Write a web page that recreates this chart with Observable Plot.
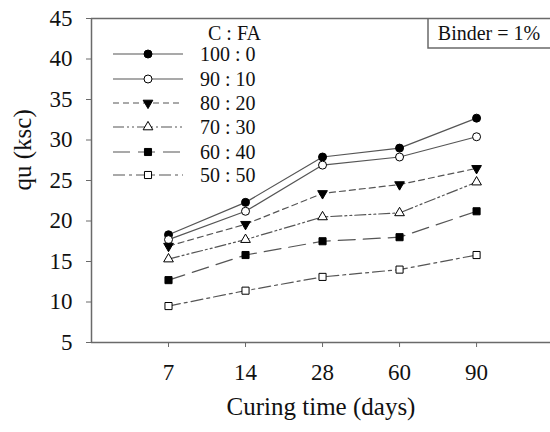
<!DOCTYPE html>
<html><head><meta charset="utf-8">
<script src="https://cdn.jsdelivr.net/npm/d3@7"></script>
<script src="https://cdn.jsdelivr.net/npm/@observablehq/plot@0.6"></script>
<style>body{margin:0;background:#fff}</style>
</head><body><div id="chart"></div>
<script>
const days = ["7", "14", "28", "60", "90"];
const ratios = ["100 : 0", "90 : 10", "80 : 20", "70 : 30", "60 : 40", "50 : 50"];
const qu100 = [18.3, 22.3, 27.9, 29.0, 32.7];
const qu90  = [17.7, 21.2, 26.9, 27.9, 30.4];
const qu80  = [16.9, 19.6, 23.4, 24.5, 26.5];
const qu70  = [15.3, 17.7, 20.5, 21.0, 24.8];
const qu60  = [12.7, 15.8, 17.5, 18.0, 21.2];
const qu50  = [9.5, 11.4, 13.1, 14.0, 15.8];
const yTicks = [5, 10, 15, 20, 25, 30, 35, 40, 45];
const legendTitle = "C : FA";
const binderNote = "Binder = 1%";
const xTitle = "Curing time (days)";
const yTitle = "qu (ksc)";

const seriesValues = [qu100, qu90, qu80, qu70, qu60, qu50];
const styles = [
  {symbol: "circle", fill: "#000", dash: null, rotate: 0, r: 4},
  {symbol: "circle", fill: "#fff", dash: null, rotate: 0, r: 4},
  {symbol: "triangle", fill: "#000", dash: "6,4", rotate: 180, r: 3.6},
  {symbol: "triangle", fill: "#fff", dash: "11,3,2,3,2,3", rotate: 0, r: 3.6},
  {symbol: "square", fill: "#000", dash: "17,8", rotate: 0, r: 4},
  {symbol: "square", fill: "#fff", dash: "12,4,3,4", rotate: 0, r: 4}
];

const FONT = "Liberation Serif, Times New Roman, serif";
const AX = "#6a6a6a";

const marks = [];
seriesValues.forEach((vals, s) => {
  const data = vals.map((v, i) => ({i, v, s: ratios[s]}));
  const st = styles[s];
  marks.push(Plot.line(data, {x: "i", y: "v", stroke: "#555", strokeWidth: 1.2, strokeDasharray: st.dash}));
  marks.push(Plot.dot(data, {x: "i", y: "v", symbol: st.symbol, r: st.r, fill: st.fill, stroke: "#000", strokeWidth: 1, rotate: st.rotate}));
});

const chart = Plot.plot({
  width: 550, height: 432,
  marginLeft: 91, marginTop: 18, marginBottom: 90, marginRight: 0,
  style: {fontFamily: FONT, background: "#fff", overflow: "visible"},
  x: {type: "linear", domain: [-1, 4.96]},
  y: {domain: [5, 45]},
  marks: [
    Plot.axisY(yTicks, {tickSize: 5, tickPadding: 14, fontSize: 23, stroke: AX, fill: "#111", label: null}),
    Plot.axisX(days.map((d, i) => i), {tickSize: 5, tickPadding: 16, fontSize: 23, stroke: AX, fill: "#111", tickFormat: i => days[i], label: null}),
    Plot.ruleX([-1], {stroke: AX, strokeWidth: 1.5}),
    Plot.ruleY([5], {stroke: AX, strokeWidth: 1.5}),
    Plot.ruleY([45], {stroke: AX, strokeWidth: 1.5}),
    ...marks,
    Plot.text([xTitle], {frameAnchor: "bottom", dy: 72, fontSize: 25, fill: "#111"}),
    Plot.text([yTitle], {frameAnchor: "left", dx: -69, dy: 10, rotate: -90, fontSize: 25, fill: "#111"})
  ]
});
document.getElementById("chart").appendChild(chart);

// legend and note box
const svg = d3.select(chart);
const g = svg.append("g").attr("font-family", FONT).attr("font-size", 20).attr("fill", "#111").attr("text-anchor", "start");
g.append("text").attr("x", 208).attr("y", 33).attr("dy", "0.35em").text(legendTitle);
const rowY = [54, 79, 103, 127, 152, 175];
const symMap = {circle: d3.symbolCircle, triangle: d3.symbolTriangle, square: d3.symbolSquare};
ratios.forEach((name, s) => {
  const st = styles[s];
  const y = rowY[s];
  g.append("line").attr("x1", 113).attr("x2", 183).attr("y1", y).attr("y2", y)
    .attr("stroke", "#555").attr("stroke-width", 1.2).attr("stroke-dasharray", st.dash);
  g.append("path").attr("d", d3.symbol(symMap[st.symbol], Math.PI * st.r * st.r)())
    .attr("transform", `translate(148,${y}) rotate(${st.rotate})`)
    .attr("fill", st.fill).attr("stroke", "#000");
  g.append("text").attr("x", 200).attr("y", y).attr("dy", "0.35em").text(name);
});
g.append("path").attr("d", "M428,18V48H551").attr("fill", "none").attr("stroke", AX).attr("stroke-width", 1.5);
g.append("text").attr("x", 489).attr("y", 33).attr("dy", "0.35em").attr("text-anchor", "middle").text(binderNote);
</script></body></html>
